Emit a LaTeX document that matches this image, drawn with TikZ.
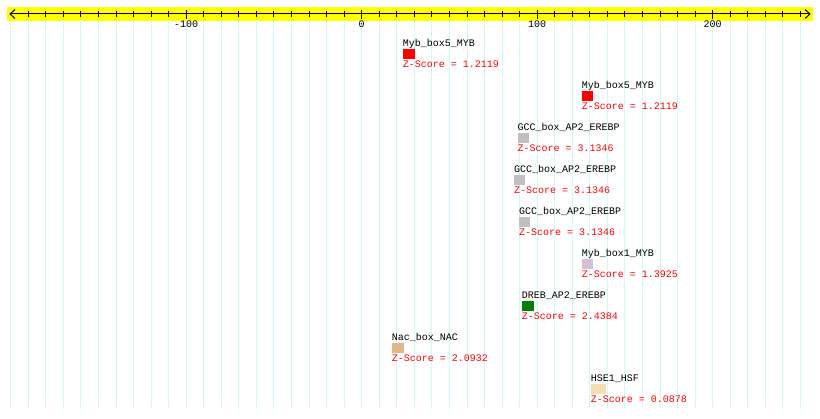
\documentclass[tikz,border=0pt]{standalone}
\usepackage{fontspec}
\setmonofont{Liberation Mono}
\definecolor{gridc}{RGB}{208,250,250}
\definecolor{axisband}{RGB}{255,255,0}
\definecolor{gccgray}{RGB}{192,192,192}
\definecolor{dgreen}{RGB}{0,128,0}
\definecolor{thistlec}{RGB}{216,191,216}
\definecolor{burlyc}{RGB}{222,184,135}
\definecolor{wheatc}{RGB}{245,222,179}
\tikzset{
  lbl/.style={font=\ttfamily\fontsize{10}{10}\selectfont, anchor=base west, inner sep=0pt, text=black},
  zs/.style={lbl, text=red},
  ticklbl/.style={lbl, anchor=base},
  sq/.style={draw=none, anchor=north west, inner sep=0pt, minimum height=10pt},
  gridline/.style={draw=gridc, line width=1pt},
  axisline/.style={draw=black, line width=1pt},
}
\newcommand{\tfmotif}[7]{%
  \node[sq, fill=#5, minimum width=#4pt] (#1sq) at (#3,#2+9) {};
  \node[lbl] (#1name) at (#3,#2+7) {#6};
  \node[zs] (#1z) at (#3,#2+28) {Z-Score = #7};
}
\begin{document}
\begin{tikzpicture}[x=1pt,y=-1pt]
  \useasboundingbox (0,0) rectangle (820,419);
  \fill[white] (0,0) rectangle (820,419);
  % grid
  \foreach \v in {-200,-190,...,250}
    \draw[gridline] ({361.7+1.755*\v},21) -- ({361.7+1.755*\v},409.5);
  % axis band
  \fill[axisband] (7,7) rectangle (813,21);
  \coordinate (aleft) at (10,14);
  \coordinate (aright) at (810,14);
  \draw[axisline] (aleft) -- (aright);
  \draw[axisline] (15,9.5) -- (aleft) -- (15,18.5);
  \draw[axisline] (805,9.5) -- (aright) -- (805,18.5);
  \foreach \v in {-190,-180,...,250}
    \draw[axisline] ({361.7+1.755*\v},11.5) -- ({361.7+1.755*\v},16.8);
  \foreach \v/\n in {-100/m100,0/z0,100/p100,200/p200}{
    \draw[axisline] ({361.7+1.755*\v},10) -- ({361.7+1.755*\v},19);
    \node[ticklbl] (tick\n) at ({361.7+1.755*\v},27.5) {\v};
  }
  % motifs
  \tfmotif{m1}{40}{402.7}{12}{red}{Myb\_box5\_MYB}{1.2119}
  \tfmotif{m2}{82}{581.7}{11}{red}{Myb\_box5\_MYB}{1.2119}
  \tfmotif{m3}{124}{517.3}{11.7}{gccgray}{GCC\_box\_AP2\_EREBP}{3.1346}
  \tfmotif{m4}{166}{514}{11}{gccgray}{GCC\_box\_AP2\_EREBP}{3.1346}
  \tfmotif{m5}{207.7}{519}{11}{gccgray}{GCC\_box\_AP2\_EREBP}{3.1346}
  \tfmotif{m6}{250}{581.7}{11}{thistlec}{Myb\_box1\_MYB}{1.3925}
  \tfmotif{m7}{291.7}{521.7}{12.3}{dgreen}{DREB\_AP2\_EREBP}{2.4384}
  \tfmotif{m8}{333.5}{391.7}{12.3}{burlyc}{Nac\_box\_NAC}{2.0932}
  \tfmotif{m9}{375}{590.7}{15.3}{wheatc}{HSE1\_HSF}{0.0878}
\end{tikzpicture}
\end{document}
